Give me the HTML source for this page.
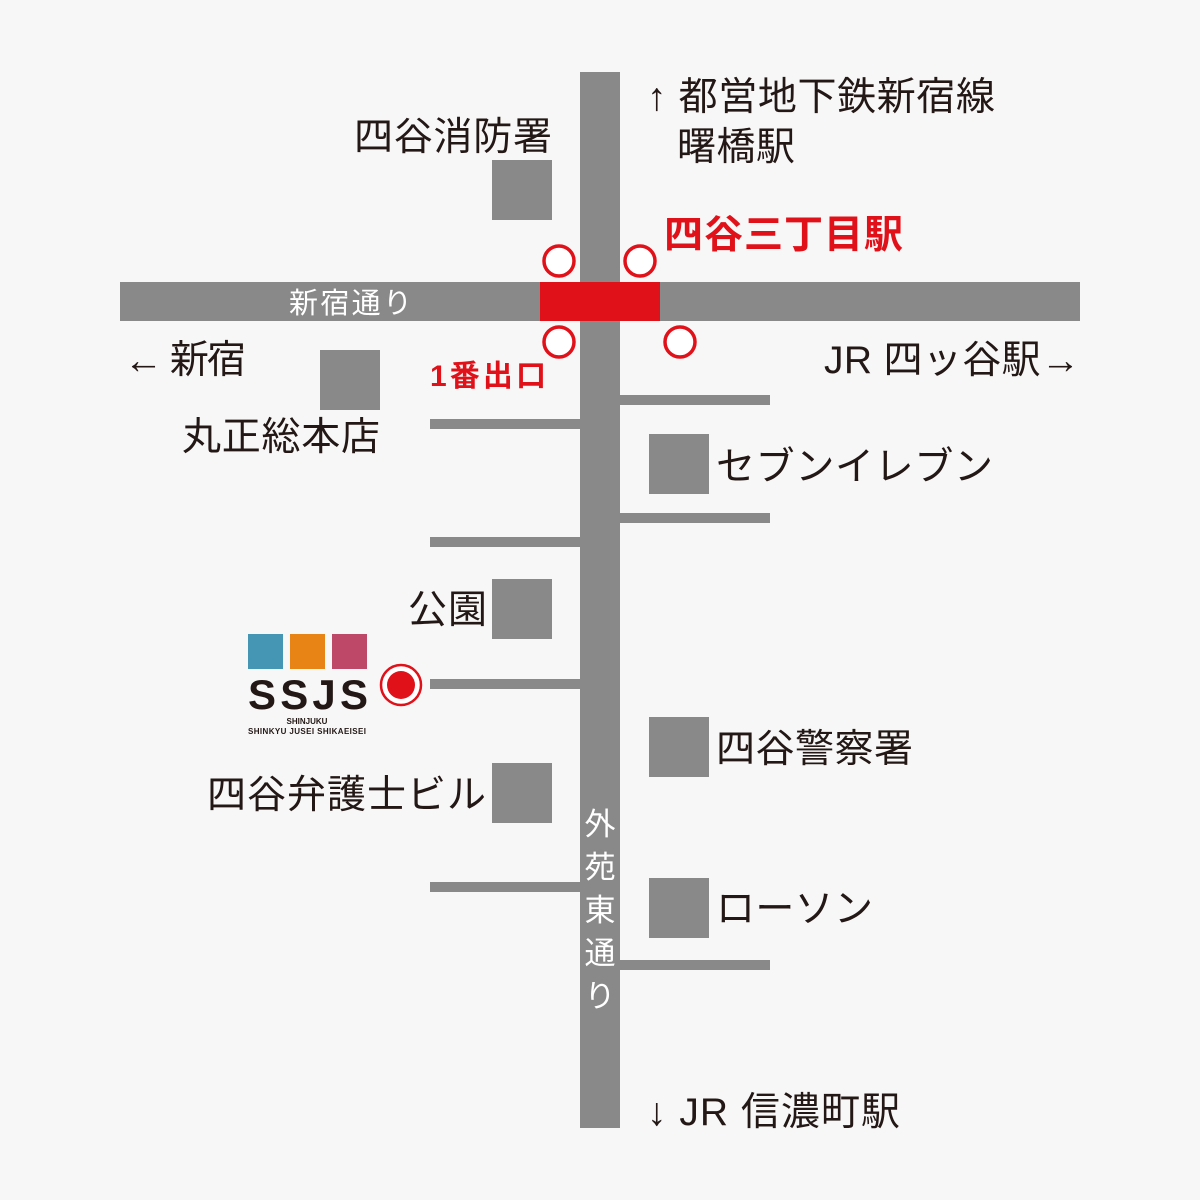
<!DOCTYPE html><html><head><meta charset="utf-8"><style>body{margin:0;background:#f7f7f7}svg{display:block}text{font-family:"Liberation Sans","Noto Sans CJK JP",sans-serif}</style></head><body>
<svg width="1200" height="1200" viewBox="0 0 1200 1200" xmlns="http://www.w3.org/2000/svg">
<rect width="1200" height="1200" fill="#f7f7f7"/>
<g fill="#898989">
<rect x="580" y="72" width="40" height="1056"/>
<rect x="120" y="282" width="960" height="39"/>
<rect x="620" y="395" width="150" height="10"/>
<rect x="620" y="513" width="150" height="10"/>
<rect x="620" y="960" width="150" height="10"/>
<rect x="430" y="419" width="150" height="10"/>
<rect x="430" y="537" width="150" height="10"/>
<rect x="430" y="679" width="150" height="10"/>
<rect x="430" y="882" width="150" height="10"/>
<rect x="492" y="160" width="60" height="60"/>
<rect x="320" y="350" width="60" height="60"/>
<rect x="649" y="434" width="60" height="60"/>
<rect x="492" y="579" width="60" height="60"/>
<rect x="649" y="717" width="60" height="60"/>
<rect x="492" y="763" width="60" height="60"/>
<rect x="649" y="878" width="60" height="60"/>
</g>
<rect x="540" y="282" width="120" height="39" fill="#e1111a"/>
<g fill="#fff" stroke="#e1111a" stroke-width="3.5">
<circle cx="559" cy="261" r="15"/><circle cx="640" cy="261" r="15"/>
<circle cx="559" cy="342" r="15"/><circle cx="680" cy="342" r="15"/>
</g>
<circle cx="401" cy="685" r="20" fill="#fff" stroke="#e1111a" stroke-width="2.5"/>
<circle cx="401" cy="685" r="14" fill="#e1111a"/>
<rect x="248" y="634" width="35" height="35" fill="#4596b4"/>
<rect x="290" y="634" width="35" height="35" fill="#e88416"/>
<rect x="332" y="634" width="35" height="35" fill="#bd4868"/>
<text x="248" y="709" font-size="42" font-weight="bold" fill="#231815" textLength="120" lengthAdjust="spacing">SSJS</text>
<text x="307" y="724" font-size="8" font-weight="bold" fill="#231815" text-anchor="middle">SHINJUKU</text>
<text x="307" y="734" font-size="8" font-weight="bold" fill="#231815" text-anchor="middle" textLength="118">SHINKYU JUSEI SHIKAEISEI</text>
<g font-size="39" fill="#231815" lengthAdjust="spacingAndGlyphs">
<text x="354" y="150" textLength="198">四谷消防署</text>
<text x="647" y="110" textLength="348">↑ 都営地下鉄新宿線</text>
<text x="677" y="160" textLength="118">曙橋駅</text>
<text x="124" y="373" textLength="122">← 新宿</text>
<text x="824" y="373" textLength="256">JR 四ッ谷駅→</text>
<text x="182" y="450" textLength="198">丸正総本店</text>
<text x="716" y="480" textLength="277">セブンイレブン</text>
<text x="408" y="623" textLength="79">公園</text>
<text x="716" y="762" textLength="197">四谷警察署</text>
<text x="207" y="808" textLength="279">四谷弁護士ビル</text>
<text x="716" y="922" textLength="157">ローソン</text>
<text x="647" y="1125" textLength="253">↓ JR 信濃町駅</text>
</g>
<text x="289" y="313" font-size="29" fill="#fff" textLength="123">新宿通り</text>
<g font-size="31" fill="#fff" text-anchor="middle">
<text x="600" y="835">外</text><text x="600" y="878">苑</text><text x="600" y="921">東</text><text x="600" y="964">通</text><text x="600" y="1007">り</text>
</g>
<text x="664" y="248" font-size="39" font-weight="bold" fill="#e1111a" textLength="239">四谷三丁目駅</text>
<text x="430" y="386" font-size="30" font-weight="bold" fill="#e1111a" textLength="116">1番出口</text>
</svg></body></html>
